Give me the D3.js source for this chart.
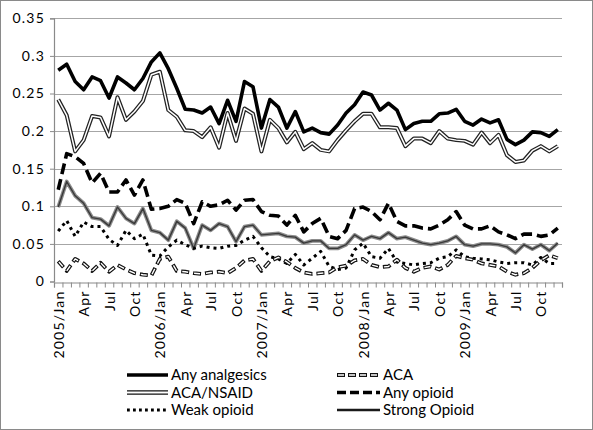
<!DOCTYPE html>
<html><head><meta charset="utf-8">
<script src="https://cdn.jsdelivr.net/npm/d3@7"></script>
<style>
body{margin:0;background:#fff;}
svg text{font-family:Lato,"Open Sans",sans-serif;fill:#000;}
</style></head>
<body><svg id="c" width="593" height="430"></svg>
<script>
const yTicks = [0,0.05,0.1,0.15,0.2,0.25,0.3,0.35];
const xTickLabels = ["2005/Jan","Apr","Jul","Oct","2006/Jan","Apr","Jul","Oct","2007/Jan","Apr","Jul","Oct","2008/Jan","Apr","Jul","Oct","2009/Jan","Apr","Jul","Oct"];
const months = d3.range(60);
const seriesNames = ["Any analgesics","ACA","ACA/NSAID","Any opioid","Weak opioid","Strong Opioid"];

const anyAnalgesics = [0.281,0.289,0.266,0.255,0.272,0.267,0.244,0.272,0.264,0.255,0.270,0.292,0.304,0.283,0.257,0.229,0.228,0.224,0.232,0.210,0.241,0.213,0.266,0.259,0.204,0.242,0.232,0.204,0.226,0.199,0.204,0.198,0.196,0.208,0.224,0.235,0.252,0.248,0.228,0.237,0.228,0.202,0.210,0.213,0.213,0.223,0.224,0.229,0.213,0.208,0.216,0.211,0.215,0.189,0.182,0.188,0.199,0.198,0.193,0.202];
const aca = [0.027,0.014,0.030,0.024,0.014,0.025,0.013,0.022,0.016,0.011,0.009,0.008,0.030,0.033,0.014,0.013,0.011,0.010,0.012,0.013,0.011,0.018,0.028,0.030,0.014,0.027,0.032,0.026,0.018,0.012,0.010,0.011,0.012,0.019,0.021,0.028,0.030,0.022,0.019,0.020,0.029,0.018,0.013,0.018,0.020,0.016,0.022,0.034,0.031,0.029,0.024,0.022,0.020,0.013,0.009,0.011,0.018,0.028,0.035,0.031];
const acaNsaid = [0.242,0.221,0.173,0.188,0.220,0.218,0.193,0.245,0.215,0.226,0.240,0.275,0.279,0.228,0.219,0.201,0.200,0.192,0.205,0.178,0.224,0.187,0.230,0.223,0.173,0.215,0.204,0.185,0.199,0.176,0.184,0.175,0.173,0.188,0.201,0.213,0.223,0.223,0.205,0.205,0.204,0.180,0.190,0.190,0.184,0.200,0.190,0.188,0.187,0.182,0.198,0.184,0.195,0.168,0.159,0.161,0.174,0.180,0.173,0.180];
const anyOpioid = [0.122,0.170,0.166,0.157,0.131,0.144,0.119,0.119,0.135,0.115,0.135,0.096,0.097,0.100,0.109,0.104,0.077,0.106,0.100,0.102,0.108,0.095,0.108,0.109,0.093,0.088,0.087,0.075,0.088,0.066,0.077,0.084,0.060,0.057,0.068,0.097,0.099,0.093,0.082,0.104,0.080,0.074,0.074,0.071,0.070,0.075,0.082,0.093,0.075,0.070,0.070,0.074,0.066,0.062,0.057,0.063,0.063,0.060,0.062,0.071];
const weakOpioid = [0.067,0.081,0.060,0.079,0.073,0.073,0.056,0.048,0.068,0.057,0.063,0.035,0.034,0.046,0.055,0.049,0.044,0.047,0.045,0.044,0.047,0.048,0.055,0.060,0.045,0.033,0.030,0.024,0.036,0.022,0.031,0.040,0.020,0.016,0.018,0.042,0.051,0.033,0.031,0.044,0.026,0.024,0.022,0.024,0.025,0.031,0.033,0.042,0.033,0.031,0.030,0.029,0.026,0.024,0.025,0.025,0.022,0.032,0.024,0.024];
const strongOpioid = [0.099,0.133,0.114,0.104,0.085,0.083,0.074,0.099,0.084,0.077,0.097,0.068,0.065,0.055,0.080,0.071,0.044,0.075,0.068,0.077,0.073,0.053,0.073,0.075,0.062,0.063,0.064,0.060,0.059,0.051,0.054,0.054,0.044,0.044,0.049,0.062,0.055,0.060,0.057,0.065,0.057,0.059,0.055,0.051,0.049,0.051,0.054,0.060,0.049,0.047,0.050,0.050,0.049,0.046,0.038,0.049,0.043,0.049,0.041,0.051];

const L=54, R=562, T=18.3, B=281.5;
const svg = d3.select("#c");
svg.append("rect").attr("x",0.5).attr("y",0.5).attr("width",592).attr("height",429)
  .attr("fill","#fff").attr("stroke","#8a8a8a").attr("stroke-width",1);

const x = d3.scalePoint().domain(months).range([L,R]).padding(0.5);
const xEdge = d3.scaleLinear().domain([0,60]).range([L,R]);
const y = d3.scaleLinear().domain([0,0.35]).range([B,T]);

// gridlines
svg.append("g").selectAll("line").data(yTicks.filter(d=>d>0)).join("line")
  .attr("x1",L).attr("x2",R).attr("y1",d=>Math.round(y(d))+0.5).attr("y2",d=>Math.round(y(d))+0.5)
  .attr("stroke","#a6a6a6").attr("stroke-width",1.2);

// y axis
const ya = svg.append("g").attr("transform",`translate(${L},0)`)
  .call(d3.axisLeft(y).tickValues(yTicks).tickSize(4).tickPadding(5).tickFormat(d=>d3.format("")(+d.toFixed(2))));
ya.select(".domain").attr("stroke","#8a8a8a").attr("stroke-width",1.2);
ya.selectAll(".tick line").attr("stroke","#8a8a8a");
ya.selectAll("text").attr("font-size",14).attr("letter-spacing","1.2px").attr("fill","#000");

// x axis minor ticks
const xa = svg.append("g").attr("transform",`translate(0,${Math.round(B)+0.5})`)
  .call(d3.axisBottom(xEdge).tickValues(d3.range(61)).tickSize(5).tickFormat(""));
xa.select(".domain").attr("stroke","#8a8a8a").attr("stroke-width",1.2);
xa.selectAll(".tick line").attr("stroke","#8a8a8a");

// x labels
const labelMonths = months.filter(m=>m%3===0);
const xl = svg.append("g").attr("transform",`translate(0,${B})`)
  .call(d3.axisBottom(x).tickValues(labelMonths).tickSize(0).tickFormat((d,i)=>xTickLabels[i]));
xl.select(".domain").remove();
xl.selectAll("text").attr("font-size",14).attr("letter-spacing","1.2px")
  .attr("transform","rotate(-90)").attr("text-anchor","end")
  .attr("x",-9).attr("y",0).attr("dy","0.36em");

const line = d3.line().x((d,i)=>x(i)).y(d=>y(d));
const gl = svg.append("g");
function draw(data, layers){
  layers.forEach(s=>{
    gl.append("path").datum(data).attr("d",line).attr("fill","none")
      .attr("stroke",s.c).attr("stroke-width",s.w)
      .attr("stroke-dasharray",s.da||null).attr("stroke-dashoffset",s.off||0)
      .attr("stroke-linejoin","round").attr("stroke-linecap",s.cap||"butt");
  });
}
const styles = {
  "Any analgesics":[{c:"#000",w:3.6}],
  "ACA":[{c:"#111",w:3.8,da:"8 4"},{c:"#fff",w:1.4,da:"6 6",off:-1}],
  "ACA/NSAID":[{c:"#222",w:4},{c:"#fff",w:1.5}],
  "Any opioid":[{c:"#000",w:3.6,da:"11 5"}],
  "Weak opioid":[{c:"#000",w:3,da:"3 4"}],
  "Strong Opioid":[{c:"#8c8c8c",w:3.8},{c:"#3a3a3a",w:1.4}]
};
draw(strongOpioid, styles["Strong Opioid"]);
draw(weakOpioid, styles["Weak opioid"]);
draw(aca, styles["ACA"]);
draw(anyOpioid, styles["Any opioid"]);
draw(acaNsaid, styles["ACA/NSAID"]);
draw(anyAnalgesics, styles["Any analgesics"]);

// legend
const legendOrder = ["Any analgesics","ACA","ACA/NSAID","Any opioid","Weak opioid","Strong Opioid"];
const legStyles = {
  "Any analgesics":[{c:"#000",w:3.6}],
  "ACA":[{c:"#111",w:4,da:"8 3"},{c:"#fff",w:1.6,da:"6 5",off:-1}],
  "ACA/NSAID":[{c:"#111",w:4.4},{c:"#fff",w:1.8}],
  "Any opioid":[{c:"#000",w:3.6,da:"9 4"}],
  "Weak opioid":[{c:"#000",w:2.8,da:"2.8 3.2"}],
  "Strong Opioid":[{c:"#1a1a1a",w:2.6}]
};
const lg = svg.append("g");
legendOrder.forEach((n,i)=>{
  const col=i%2, row=Math.floor(i/2);
  const x0 = col===0?127:337, x1 = col===0?168:380, yy = 375+row*17.5;
  legStyles[n].forEach(s=>{
    lg.append("line").attr("x1",x0).attr("x2",x1).attr("y1",yy).attr("y2",yy)
      .attr("stroke",s.c).attr("stroke-width",s.w).attr("stroke-dasharray",s.da||null)
      .attr("stroke-dashoffset",s.off||0);
  });
  lg.append("text").attr("x",x1+3).attr("y",yy).attr("dy","0.36em")
    .attr("font-size",15).text(n);
});
</script></body></html>
